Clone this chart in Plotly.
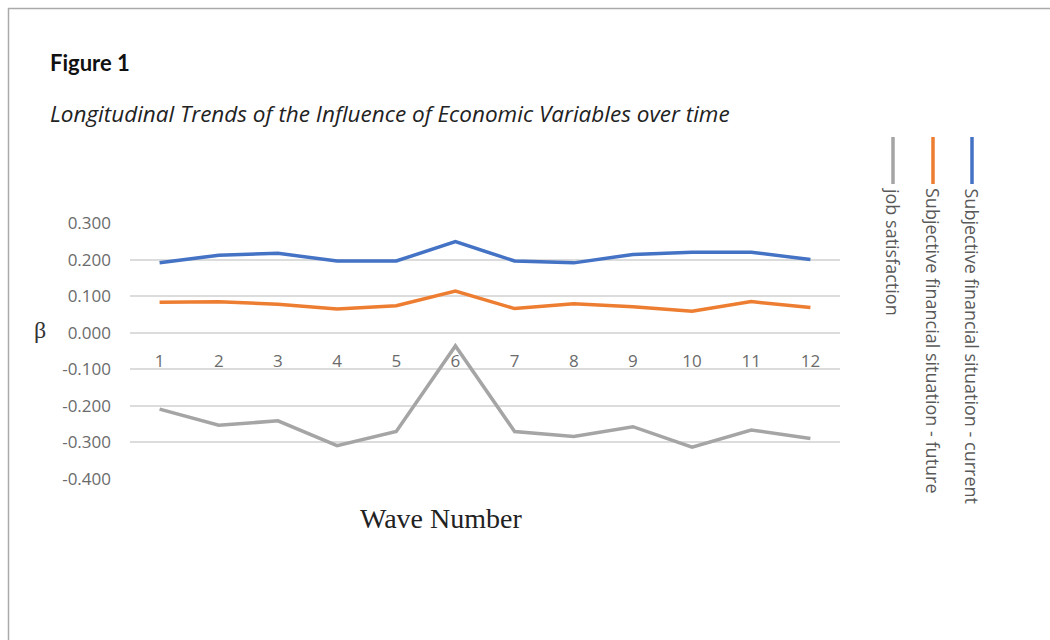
import plotly.graph_objects as go

# Wave numbers and standardized coefficients per predictor
waves = [1, 2, 3, 4, 5, 6, 7, 8, 9, 10, 11, 12]
fin_current = [0.191, 0.212, 0.217, 0.196, 0.196, 0.249, 0.196, 0.191, 0.214, 0.220, 0.220, 0.200]
fin_future = [0.083, 0.085, 0.078, 0.065, 0.074, 0.114, 0.066, 0.079, 0.071, 0.059, 0.085, 0.069]
job_satisfaction = [-0.209, -0.253, -0.241, -0.309, -0.270, -0.036, -0.270, -0.284, -0.257, -0.313, -0.266, -0.289]

series_names = [
    "Subjective financial situation - current",
    "Subjective financial situation - future",
    "job satisfaction",
]
series_colors = ["#4472C4", "#ED7D31", "#A5A5A5"]

y_ticks = [0.3, 0.2, 0.1, 0.0, -0.1, -0.2, -0.3, -0.4]
y_ticktext = ["0.300", "0.200", "0.100", "0.000", "-0.100", "-0.200", "-0.300", "-0.400"]

W, H = 1050, 640
# plot area in pixels
PX0, PX1 = 130, 840
PY0, PY1 = 223, 479
Y_MIN, Y_MAX = -0.4, 0.3


def fx(px):
    return px / W


def fy(py):
    return 1 - py / H


fig = go.Figure()
for name, vals, col in zip(series_names, [fin_current, fin_future, job_satisfaction], series_colors):
    fig.add_trace(go.Scatter(
        x=waves, y=vals, mode="lines", name=name,
        line=dict(color=col, width=3.5), showlegend=False,
    ))

# category axis labels sit on the zero line
zero_pos = fy(PY1) + (0 - Y_MIN) / (Y_MAX - Y_MIN) * (fy(PY0) - fy(PY1))

fig.update_layout(
    width=W, height=H,
    margin=dict(l=0, r=0, t=0, b=0, pad=0, autoexpand=False),
    paper_bgcolor="white", plot_bgcolor="white",
    xaxis=dict(
        domain=[fx(PX0), fx(PX1)],
        range=[0.5, 12.5],
        tickvals=waves,
        ticktext=[str(w) for w in waves],
        anchor="free", position=zero_pos,
        showgrid=False, zeroline=False, showline=False, automargin=False,
        ticks="", ticklabelstandoff=16,
        tickfont=dict(family="Open Sans", size=17, color="#6b6b6b"),
    ),
    yaxis=dict(
        domain=[fy(PY1), fy(PY0)],
        range=[Y_MIN, Y_MAX],
        tickvals=y_ticks, ticktext=y_ticktext,
        showgrid=True, gridcolor="#dcdcdc", gridwidth=1.5,
        zeroline=False, showline=False, automargin=False,
        ticks="", ticklabelstandoff=18,
        tickfont=dict(family="Open Sans", size=17, color="#6b6b6b"),
    ),
)

# page frame
fig.add_shape(type="line", xref="paper", yref="paper", x0=fx(8), x1=1, y0=fy(8.5), y1=fy(8.5),
              line=dict(color="#aaaaaa", width=1.5))
fig.add_shape(type="line", xref="paper", yref="paper", x0=fx(8.5), x1=fx(8.5), y0=fy(8), y1=0,
              line=dict(color="#aaaaaa", width=1.5))

# headings
fig.add_annotation(xref="paper", yref="paper", x=fx(48), y=fy(63), xanchor="left", yanchor="middle",
                   text="<b>Figure 1</b>", showarrow=False,
                   font=dict(family="Lato", size=22, color="#111111"))
fig.add_annotation(xref="paper", yref="paper", x=fx(48), y=fy(114), xanchor="left", yanchor="middle",
                   text="<i>Longitudinal Trends of the Influence of Economic Variables over time</i>",
                   showarrow=False, font=dict(family="Open Sans", size=22.5, color="#222222"))

# axis titles
fig.add_annotation(xref="paper", yref="paper", x=fx(40), y=fy(330), xanchor="center", yanchor="middle",
                   text="β", showarrow=False,
                   font=dict(family="Liberation Serif", size=24, color="#333333"))
fig.add_annotation(xref="paper", yref="paper", x=fx(441), y=fy(518), xanchor="center", yanchor="middle",
                   text="Wave Number", showarrow=False,
                   font=dict(family="Liberation Serif", size=28, color="#222222"))

# rotated legend on the right
legend_x = [972, 933, 893]
for name, col, lx in zip(series_names, series_colors, legend_x):
    fig.add_shape(type="line", xref="paper", yref="paper", x0=fx(lx), x1=fx(lx), y0=fy(137), y1=fy(184),
                  line=dict(color=col, width=3.5))
    fig.add_annotation(xref="paper", yref="paper", x=fx(lx), y=fy(186), xanchor="center", yanchor="top",
                       text=name, textangle=90, showarrow=False,
                       font=dict(family="Open Sans", size=18, color="#595959"))

fig.write_html("out.html")
